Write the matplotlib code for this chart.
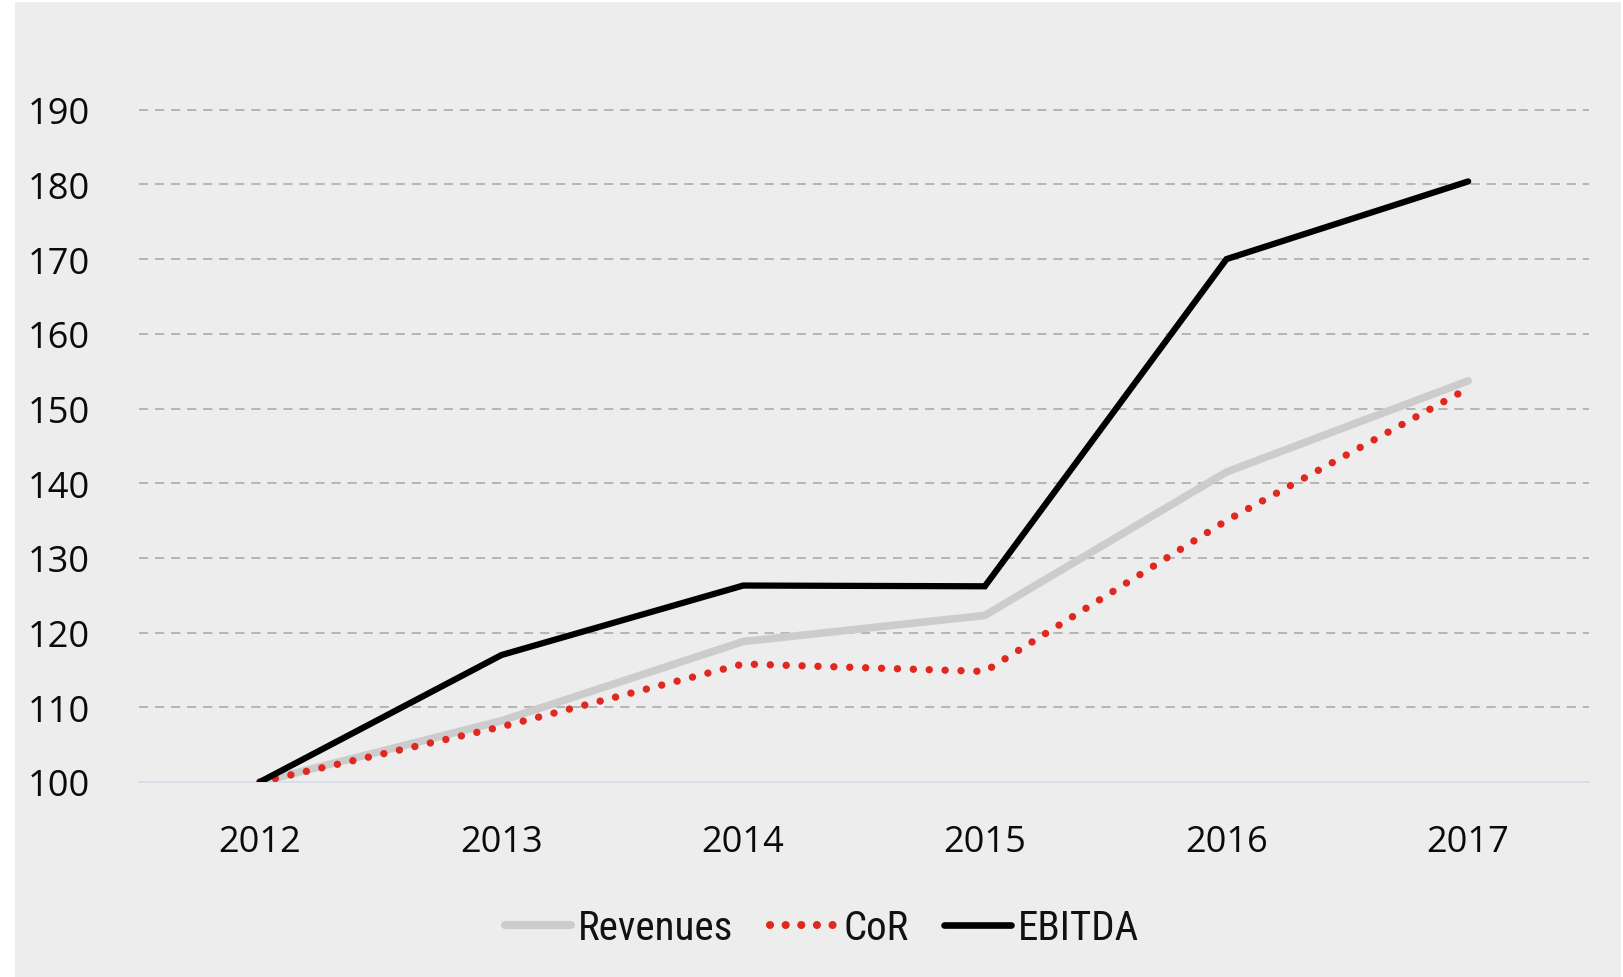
import matplotlib
matplotlib.use("Agg")
import matplotlib.pyplot as plt
import numpy as np
from matplotlib.patches import Rectangle
from matplotlib.lines import Line2D

years = ["2012", "2013", "2014", "2015", "2016", "2017"]
revenues = [100.0, 108.2, 118.8, 122.3, 141.5, 153.7]
cor = [100.0, 107.4, 115.8, 114.8, 135.0, 152.7]
ebitda = [100.0, 117.0, 126.3, 126.2, 170.0, 180.4]
yticks = [100, 110, 120, 130, 140, 150, 160, 170, 180, 190]
series_names = ["Revenues", "CoR", "EBITDA"]

BG = "#EDEDED"
W, H = 1624, 978

fig = plt.figure(figsize=(W / 100, H / 100), dpi=100, facecolor="white")
fig.patches.append(Rectangle((15 / W, 0), (1621 - 15) / W, (H - 3) / H,
                             transform=fig.transFigure, facecolor=BG,
                             edgecolor="none", zorder=-10))

ax = fig.add_axes([139 / W, (H - 783) / H, (1589 - 139) / W, (783 - 36) / H])
ax.set_facecolor(BG)
ax.patch.set_alpha(0)

x = np.arange(len(years))

REV_C, COR_C, EB_C = "#CCCCCC", "#E0281E", "black"
COR_LS = (0, (0.01, 2.15))

ax.plot(x, revenues, color=REV_C, lw=5.5, solid_capstyle="round",
        solid_joinstyle="round", zorder=3)
ax.plot(x, cor, color=COR_C, lw=5.3, linestyle=COR_LS,
        dash_capstyle="round", dash_joinstyle="round", zorder=4)
ax.plot(x, ebitda, color=EB_C, lw=4.5, solid_capstyle="round",
        solid_joinstyle="miter", zorder=5)

ax.set_xlim(-0.5, len(years) - 0.5)
ax.set_ylim(100, 200)
ax.set_xticks(x)
ax.set_xticklabels(years)
ax.set_yticks(yticks)
ax.set_yticklabels([str(v) for v in yticks])
ax.tick_params(axis="both", length=0, labelsize=26)
ax.tick_params(axis="y", pad=35.5)
ax.tick_params(axis="x", pad=30.5)
for lbl in ax.get_xticklabels() + ax.get_yticklabels():
    lbl.set_fontfamily(["Open Sans", "DejaVu Sans"])
    lbl.set_color("#0A0A0A")

for s in ["top", "left", "right"]:
    ax.spines[s].set_visible(False)
ax.spines["bottom"].set_color("#D5DEE8")
ax.spines["bottom"].set_linewidth(1.3)

ax.yaxis.grid(True, color="#A6A6A6", linestyle=(0, (6, 4.5)), linewidth=1.1)
ax.set_axisbelow(True)
ax.get_ygridlines()[0].set_visible(False)

handles = [
    Line2D([], [], color=REV_C, lw=5.8, solid_capstyle="round"),
    Line2D([], [], color=COR_C, lw=5.8, linestyle=(0, (0.01, 1.93)), dash_capstyle="round"),
    Line2D([], [], color=EB_C, lw=4.8, solid_capstyle="round"),
]
leg = fig.legend(handles, series_names, loc="center", bbox_to_anchor=(822 / W, (H - 929) / H),
                 ncol=3, frameon=False, handlelength=1.62, handletextpad=0.17,
                 columnspacing=0.88,
                 prop={"family": ["Roboto Condensed", "Roboto"], "size": 29.5})
for t in leg.get_texts():
    t.set_color("#111111")

fig.savefig("out.png", dpi=100, facecolor="white")
